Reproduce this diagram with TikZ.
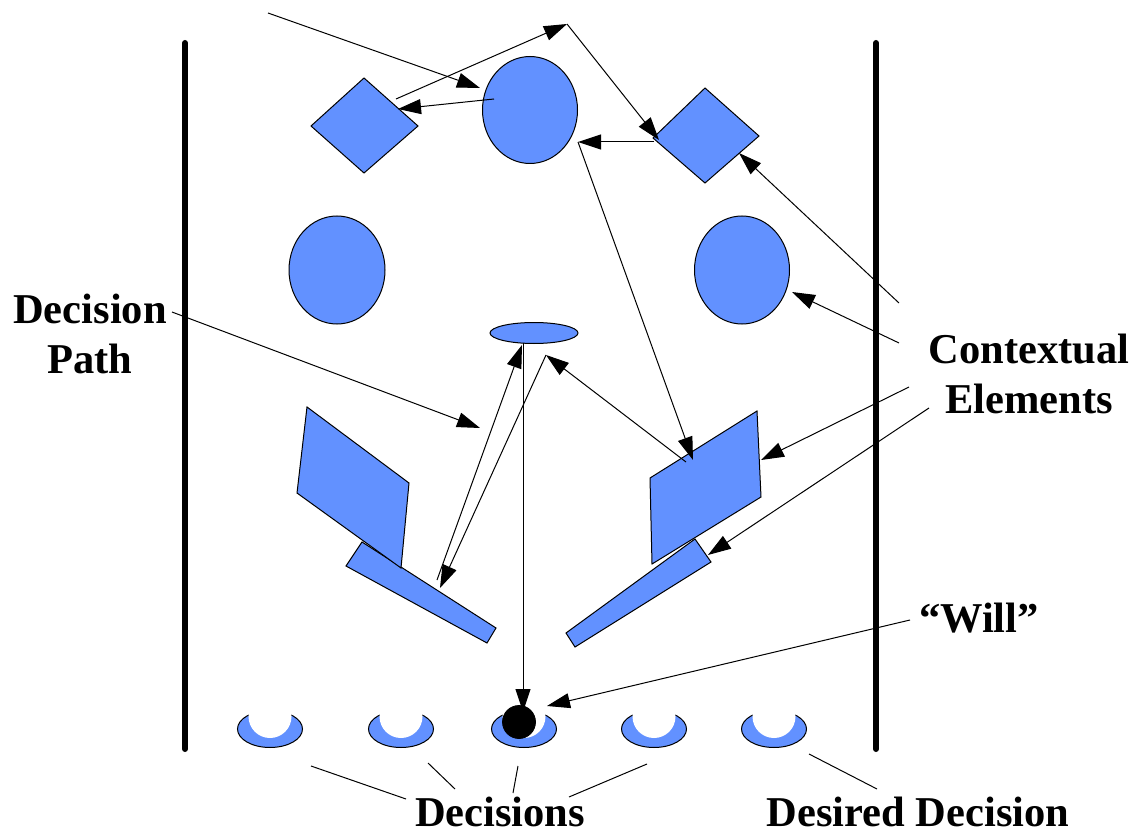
\documentclass[tikz,border=0pt]{standalone}
\usepackage{fontspec}
\setmainfont{Liberation Serif}
\usetikzlibrary{arrows.meta,shapes.geometric}
\definecolor{shapeblue}{RGB}{98,145,255}
\begin{document}
\begin{tikzpicture}[x=1pt,y=-1pt,
  blueshape/.style={fill=shapeblue,draw=black,line width=1pt,line join=miter},
  conn/.style={draw=black,line width=1pt,-{Triangle[length=23pt,width=15pt]}},
  plainline/.style={draw=black,line width=1pt},
  bar/.style={draw=black,line width=6pt,line cap=round},
  lbl/.style={font=\fontsize{42.5}{50}\selectfont\bfseries,align=center,inner sep=0pt},
  ell/.style={blueshape,ellipse,inner sep=0pt}
]
\useasboundingbox (0,0) rectangle (1135,834);

% side bars
\coordinate (lbt) at (185,43); \coordinate (lbb) at (185,749);
\coordinate (rbt) at (876,43); \coordinate (rbb) at (876,749);
\draw[bar] (lbt) -- (lbb);
\draw[bar] (rbt) -- (rbb);

% circles / ellipses
\node[ell,minimum width=95pt,minimum height=107pt] (topc) at (530,110) {};
\node[ell,minimum width=96pt,minimum height=108pt] (lmc) at (337,270) {};
\node[ell,minimum width=95pt,minimum height=108pt] (rmc) at (742,270) {};
\node[ell,minimum width=88pt,minimum height=21pt] (sell) at (534,333) {};

% diamonds
\coordinate (ldL) at (311,126); \coordinate (ldT) at (364,78);
\coordinate (ldR) at (418,126); \coordinate (ldB) at (364,173);
\draw[blueshape] (ldL) -- (ldT) -- (ldR) -- (ldB) -- cycle;
\coordinate (rdL) at (653,138); \coordinate (rdT) at (705,88);
\coordinate (rdR) at (759,136); \coordinate (rdB) at (705,183);
\draw[blueshape] (rdL) -- (rdT) -- (rdR) -- (rdB) -- cycle;

% wedges and parallelograms
\coordinate (lw1) at (346,566); \coordinate (lw2) at (362,542);
\coordinate (lw3) at (496,628); \coordinate (lw4) at (487,643);
\draw[blueshape] (lw1) -- (lw2) -- (lw3) -- (lw4) -- cycle;
\coordinate (lp1) at (307,407); \coordinate (lp2) at (409,483);
\coordinate (lp3) at (401,568); \coordinate (lp4) at (297,493);
\draw[blueshape] (lp1) -- (lp2) -- (lp3) -- (lp4) -- cycle;
\coordinate (rw1) at (566,633); \coordinate (rw2) at (695,539);
\coordinate (rw3) at (711,562); \coordinate (rw4) at (575,647);
\draw[blueshape] (rw1) -- (rw2) -- (rw3) -- (rw4) -- cycle;
\coordinate (rp1) at (650,478); \coordinate (rp2) at (757,411);
\coordinate (rp3) at (761,497); \coordinate (rp4) at (652,564);
\draw[blueshape] (rp1) -- (rp2) -- (rp3) -- (rp4) -- cycle;

% decision cups
\foreach \i/\x in {1/270,2/401,3/524,4/654,5/774} {
  \node[ell,minimum width=65pt,minimum height=37pt] (cup\i) at (\x,729) {};
  \fill[white] (\x,716.5) circle[radius=21.5pt];
}

% labels
\node[lbl,anchor=base] (dplabel) at (90,373) {Decision\\Path};
\node[lbl,anchor=base] (celabel) at (1029,413) {Contextual\\Elements};
\node[lbl,anchor=base] (willlabel) at (979,632) {“Will”};
\node[lbl,anchor=base] (declabel) at (500,826) {Decisions};
\node[lbl,anchor=base] (desiredlabel) at (918,826) {Desired Decision};

% top arrows
\coordinate (a0) at (268,13); \coordinate (a1) at (480,88);
\draw[conn] (a0) -- (a1);
\coordinate (b0) at (396,99); \coordinate (peak) at (567,24); \coordinate (b2) at (659,140);
\draw[conn] (b0) -- (peak);
\draw[conn] (peak) -- (b2);
\coordinate (c0) at (494,99); \coordinate (c1) at (398,109);
\draw[conn] (c0) -- (c1);
\coordinate (d0) at (654,142); \coordinate (d1) at (578,142);
\draw[conn] (d0) -- (d1);
\coordinate (e1) at (693,460);
\draw[conn] (d1) -- (e1);

% contextual element arrows
\coordinate (f0) at (899,303); \coordinate (f1) at (739,153);
\draw[conn] (f0) -- (f1);
\coordinate (g0) at (899,343); \coordinate (g1) at (792,292);
\draw[conn] (g0) -- (g1);
\coordinate (h0) at (909,387); \coordinate (h1) at (761,460);
\draw[conn] (h0) -- (h1);
\coordinate (i0) at (929,408); \coordinate (i1) at (708,555);
\draw[conn] (i0) -- (i1);

% decision path arrows
\coordinate (dp0) at (172,312); \coordinate (dp1) at (480,428);
\draw[conn] (dp0) -- (dp1);
\coordinate (pc0) at (686,462); \coordinate (pturn) at (546,355);
\draw[conn] (pc0) -- (pturn);
\coordinate (pb1) at (440,588);
\draw[conn] (pturn) -- (pb1);
\coordinate (pa0) at (437,580); \coordinate (pa1) at (522,345);
\draw[conn] (pa0) -- (pa1);
\coordinate (v0) at (523,343); \coordinate (v1) at (523,712);
\draw[conn] (v0) -- (v1);

% will ball
\node[circle,fill=black,draw=black,line width=0.8pt,minimum size=33pt,inner sep=0pt] (ball) at (519,722) {};
\coordinate (w0) at (910,620); \coordinate (w1) at (547,706);
\draw[conn] (w0) -- (w1);

% decision lines
\coordinate (k1a) at (311,766); \coordinate (k1b) at (406,799);
\coordinate (k2a) at (428,763); \coordinate (k2b) at (455,789);
\coordinate (k3a) at (518,766); \coordinate (k3b) at (513,793);
\coordinate (k4a) at (647,764); \coordinate (k4b) at (569,797);
\coordinate (k5a) at (809,754); \coordinate (k5b) at (877,789);
\foreach \j in {1,...,5} { \draw[plainline] (k\j a) -- (k\j b); }
\end{tikzpicture}
\end{document}
